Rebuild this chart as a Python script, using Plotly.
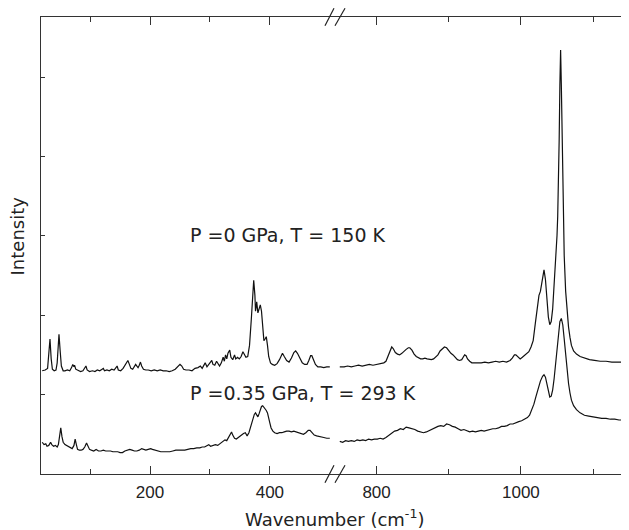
import plotly.graph_objects as go

# ---- Data ----
# Left segment (low wavenumber), P = 0 GPa, T = 150 K
x_low_150 = [20,25,29,31,33,35,37,40,43,45,47,48,50,52,55,58,62,66,69,71,73,74,76,80,84,88,91,93,95,99,
             104,108,112,116,120,122,124,128,132,136,140,143,145,147,151,155,158,161,163,165,168,171,174,176,
             178,180,182,184,186,189,193,197,202,207,212,217,222,227,232,237,242,246,250,253,256,260,265,270,
             275,280,284,287,290,292,295,298,301,303,305,308,311,313,316,319,322,324,326,328,330,333,335,338,
             341,343,346,349,352,355,357,360,363,366,369,371,373,375,376,377,378,379,380,382,384,386,388,390,
             392,394,396,398,401,404,408,412,416,419,421,424,428,432,436,440,443,446,450,454,458,462,465,468,
             470,473,476,480,485,490,495,500]
y_low_150 = [1.30,1.31,1.33,1.50,1.70,1.45,1.32,1.30,1.31,1.40,1.65,1.76,1.55,1.36,1.30,1.30,1.31,1.30,1.34,1.38,
             1.35,1.37,1.32,1.30,1.29,1.30,1.33,1.36,1.31,1.29,1.30,1.29,1.31,1.30,1.32,1.33,1.30,1.31,1.30,1.32,
             1.31,1.34,1.36,1.31,1.30,1.33,1.37,1.42,1.43,1.39,1.33,1.32,1.35,1.38,1.36,1.34,1.37,1.41,1.36,1.32,
             1.31,1.31,1.30,1.31,1.30,1.31,1.30,1.30,1.29,1.30,1.32,1.35,1.38,1.36,1.32,1.31,1.31,1.30,1.33,1.34,
             1.36,1.33,1.37,1.40,1.35,1.38,1.41,1.43,1.38,1.37,1.42,1.39,1.36,1.40,1.47,1.42,1.50,1.45,1.52,1.56,
             1.47,1.44,1.50,1.45,1.47,1.45,1.48,1.54,1.51,1.47,1.48,1.62,1.95,2.30,2.44,2.25,2.05,2.10,2.17,2.08,
             2.03,2.08,2.13,2.05,1.80,1.68,1.70,1.73,1.62,1.48,1.40,1.38,1.37,1.39,1.44,1.50,1.52,1.48,1.43,1.41,
             1.46,1.53,1.55,1.52,1.45,1.40,1.38,1.38,1.43,1.49,1.49,1.43,1.38,1.35,1.35,1.34,1.35,1.35]

# Left segment, P = 0.35 GPa, T = 293 K
x_low_293 = [20,23,26,28,31,34,36,39,42,45,47,49,51,53,55,58,61,64,67,70,73,75,77,79,82,85,88,91,94,96,99,
             102,106,110,114,118,122,126,130,134,138,142,146,150,154,158,162,166,170,174,178,182,186,189,193,
             197,201,204,208,213,218,223,228,233,238,243,248,253,258,263,268,273,278,283,287,291,295,298,301,
             305,309,313,317,321,325,328,331,334,336,338,341,344,347,350,353,356,359,362,365,368,371,374,376,
             378,380,382,384,386,388,390,392,394,396,398,400,402,405,408,412,416,420,424,428,432,436,440,444,
             448,452,456,460,464,467,470,474,478,482,486,490,495,500]
y_low_293 = [0.40,0.37,0.38,0.35,0.36,0.40,0.37,0.35,0.36,0.34,0.37,0.50,0.58,0.47,0.40,0.37,0.36,0.34,0.33,0.32,
             0.36,0.44,0.37,0.31,0.30,0.30,0.31,0.34,0.39,0.35,0.31,0.30,0.29,0.31,0.29,0.29,0.30,0.29,0.29,0.29,
             0.28,0.28,0.28,0.27,0.27,0.29,0.30,0.31,0.30,0.29,0.29,0.30,0.32,0.31,0.30,0.31,0.32,0.31,0.30,0.29,
             0.28,0.28,0.28,0.28,0.29,0.30,0.30,0.30,0.30,0.31,0.32,0.32,0.33,0.33,0.34,0.34,0.36,0.37,0.35,0.36,
             0.37,0.36,0.38,0.40,0.43,0.42,0.46,0.51,0.53,0.49,0.45,0.44,0.46,0.47,0.49,0.51,0.52,0.48,0.52,0.60,
             0.70,0.75,0.77,0.74,0.72,0.76,0.82,0.85,0.86,0.84,0.83,0.80,0.77,0.72,0.64,0.58,0.54,0.52,0.51,0.52,
             0.52,0.53,0.54,0.54,0.53,0.54,0.53,0.52,0.51,0.50,0.52,0.55,0.55,0.52,0.49,0.48,0.47,0.46,0.46,0.45,
             0.45]

# Right segment (high wavenumber), P = 0 GPa, T = 150 K
x_high_150 = [749,755,760,765,770,775,780,785,790,795,800,805,810,813,816,819,821,823,826,829,832,835,838,841,
              844,846,849,852,855,858,861,864,867,870,873,876,879,882,885,888,891,894,897,900,903,906,909,912,
              915,918,920,922,924,926,929,932,936,940,945,950,955,960,965,970,975,980,985,988,991,993,996,999,
              1002,1005,1008,1011,1014,1017,1020,1023,1025,1027,1029,1031,1032,1034,1036,1038,1040,1042,1044,
              1046,1048,1050,1051,1052,1053,1054,1055,1056,1057,1058,1059,1060,1062,1064,1066,1068,1070,1073,
              1077,1082,1088,1095,1102,1110,1118,1126,1134,1142,1147]
y_high_150 = [1.35,1.35,1.36,1.35,1.36,1.37,1.36,1.37,1.38,1.37,1.38,1.39,1.40,1.42,1.48,1.56,1.60,1.58,1.53,1.51,
              1.50,1.52,1.55,1.57,1.59,1.59,1.56,1.51,1.48,1.46,1.45,1.45,1.46,1.45,1.44,1.44,1.45,1.47,1.50,1.55,
              1.58,1.60,1.59,1.55,1.52,1.50,1.47,1.44,1.43,1.44,1.47,1.50,1.49,1.45,1.42,1.40,1.40,1.40,1.40,1.41,
              1.40,1.41,1.42,1.41,1.42,1.41,1.43,1.46,1.50,1.50,1.47,1.45,1.47,1.49,1.51,1.54,1.60,1.68,1.90,2.15,
              2.25,2.30,2.42,2.55,2.57,2.45,2.20,1.98,1.88,1.92,2.08,2.35,2.65,3.00,3.25,3.60,4.20,4.90,5.34,4.90,
              4.20,3.55,3.10,2.75,2.30,2.02,1.85,1.72,1.62,1.55,1.51,1.48,1.46,1.44,1.43,1.42,1.42,1.41,1.41,1.41,
              1.40]

# Right segment, P = 0.35 GPa, T = 293 K
x_high_293 = [749,753,757,761,765,769,773,777,781,785,789,793,797,801,805,809,813,817,821,825,829,833,837,841,
              845,849,853,857,861,865,869,873,877,881,885,889,893,897,901,905,909,913,917,921,925,929,933,937,
              941,945,949,953,957,961,965,969,973,977,981,985,989,993,997,1001,1005,1009,1012,1015,1018,1021,
              1024,1027,1030,1032,1034,1036,1038,1040,1042,1044,1046,1048,1050,1052,1054,1056,1058,1060,1062,
              1064,1066,1068,1070,1073,1077,1082,1088,1094,1100,1106,1112,1118,1124,1130,1136,1142,1147]
y_high_293 = [0.41,0.40,0.42,0.41,0.42,0.41,0.43,0.42,0.43,0.42,0.44,0.43,0.44,0.44,0.45,0.44,0.46,0.49,0.52,0.54,
              0.55,0.57,0.56,0.59,0.58,0.57,0.56,0.54,0.53,0.52,0.53,0.55,0.56,0.59,0.60,0.61,0.60,0.63,0.62,0.60,
              0.59,0.57,0.55,0.56,0.54,0.53,0.54,0.53,0.54,0.55,0.54,0.55,0.56,0.57,0.57,0.58,0.60,0.60,0.61,0.63,
              0.63,0.65,0.66,0.67,0.69,0.71,0.74,0.80,0.88,0.98,1.08,1.17,1.23,1.25,1.22,1.13,1.04,0.97,0.98,1.06,
              1.20,1.38,1.58,1.78,1.92,1.96,1.88,1.70,1.50,1.30,1.14,1.02,0.93,0.86,0.81,0.77,0.74,0.73,0.72,0.71,
              0.70,0.70,0.69,0.69,0.68,0.68,0.68]

left_major = [200, 400]
left_minor = [100, 300]
right_major = [800, 1000]
right_minor = [900, 1100]
y_ticks = [0, 1, 2, 3, 4, 5]

label_150 = "P =0 GPa, T = 150 K"
label_293 = "P =0.35 GPa, T = 293 K"

# ---- Figure ----
FONT = "Arial, Liberation Sans, sans-serif"
WIDE = "DejaVu Sans, sans-serif"
TXT = "#222222"
LINE = dict(color="#111111", width=1.2)
AX = "#333333"

fig = go.Figure()
fig.add_trace(go.Scatter(x=x_low_150, y=y_low_150, mode="lines", line=LINE, xaxis="x", yaxis="y"))
fig.add_trace(go.Scatter(x=x_low_293, y=y_low_293, mode="lines", line=LINE, xaxis="x", yaxis="y"))
fig.add_trace(go.Scatter(x=x_high_150, y=y_high_150, mode="lines", line=LINE, xaxis="x2", yaxis="y2"))
fig.add_trace(go.Scatter(x=x_high_293, y=y_high_293, mode="lines", line=LINE, xaxis="x2", yaxis="y2"))

xcommon = dict(showline=True, linecolor=AX, linewidth=1, mirror="ticks", ticks="inside", ticklen=8,
               tickcolor=AX, showgrid=False, zeroline=False, automargin=False, ticklabelstandoff=3,
               tickfont=dict(family=FONT, size=17, color=TXT))
ycommon = dict(range=[0, 5.756], tickvals=y_ticks, showticklabels=False, showline=True, linecolor=AX,
               linewidth=1, ticks="inside", ticklen=4, tickcolor=AX, showgrid=False, zeroline=False,
               automargin=False)

# The page body has an 8px default margin, so the margins below are offset by it.
fig.update_layout(
    template="none",
    width=629, height=530,
    margin=dict(l=33, r=10, t=9, b=64, autoexpand=False),
    paper_bgcolor="white", plot_bgcolor="white",
    showlegend=False,
    xaxis=dict(domain=[0, 0.5], range=[18, 507], tickvals=left_major,
               minor=dict(tickvals=left_minor, ticks="inside", ticklen=5, tickcolor=AX), anchor="y", **xcommon),
    xaxis2=dict(domain=[0.5, 1], range=[741, 1147], tickvals=right_major,
                minor=dict(tickvals=right_minor, ticks="inside", ticklen=5, tickcolor=AX), anchor="y2", **xcommon),
    yaxis=dict(anchor="x", side="left", **ycommon),
    yaxis2=dict(anchor="x2", side="right", matches="y", **ycommon),
)

# axis break marks
for yc in (0.0, 1.0):
    for x0, x1 in ((0.4846, 0.5000), (0.5017, 0.5188)):
        fig.add_shape(type="line", xref="paper", yref="paper", x0=x0, x1=x1, y0=yc - 0.019, y1=yc + 0.019,
                      line=dict(color="#222", width=1.2))

fig.add_annotation(text=label_150, xref="paper", yref="paper", x=0.251, y=0.523, xanchor="left",
                   yanchor="middle", showarrow=False, font=dict(family=WIDE, size=19, color=TXT))
fig.add_annotation(text=label_293, xref="paper", yref="paper", x=0.251, y=0.177, xanchor="left",
                   yanchor="middle", showarrow=False, font=dict(family=WIDE, size=19, color=TXT))
fig.add_annotation(text="Wavenumber (cm<sup>-1</sup>)", xref="paper", yref="paper", x=0.5, y=-0.096,
                   xanchor="center", yanchor="middle", showarrow=False, font=dict(family=WIDE, size=18, color=TXT))
fig.add_annotation(text="Intensity", xref="paper", yref="paper", x=-0.040, y=0.521, textangle=-90,
                   xanchor="center", yanchor="middle", showarrow=False, font=dict(family=WIDE, size=18, color=TXT))

fig.write_html("out.html")
